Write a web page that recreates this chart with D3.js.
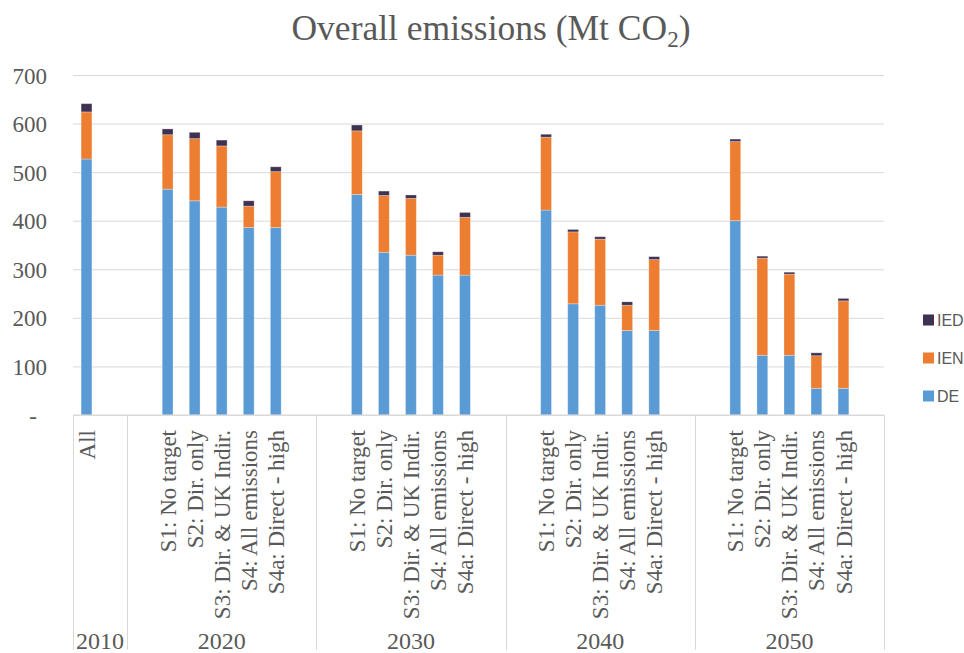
<!DOCTYPE html>
<html>
<head>
<meta charset="utf-8">
<script src="https://cdn.jsdelivr.net/npm/d3@7/dist/d3.min.js"></script>
<style>
  html, body { margin: 0; padding: 0; background: #fff; }
  svg { display: block; }
</style>
</head>
<body>
<svg id="chart" width="964" height="653"></svg>
<script>
// Emissions by year and scenario, Mt CO2
const years = ["2010", "2020", "2030", "2040", "2050"];
const baseCategory = "All";
const scenarios = ["S1: No target", "S2: Dir. only", "S3: Dir. & UK Indir.", "S4: All emissions", "S4a: Direct - high"];
const seriesNames = ["DE", "IEN", "IED"];
// one value per bar: 2010 All, then five scenarios for each later year
const deValues  = [527, 465, 441, 428, 386, 386, 454, 335, 329, 288, 288, 422, 229, 226, 174, 174, 400, 123, 123, 55, 55];
const ienValues = [97, 112, 128, 126, 44, 115, 131, 117, 117, 41, 119, 150, 148, 136, 52, 146, 163, 200, 167, 67, 180];
const iedValues = [17, 12, 13, 12, 11, 10, 12, 9, 7, 7, 10, 6, 5, 5, 7, 6, 5, 4, 4, 6, 5];
const yTicks = [0, 100, 200, 300, 400, 500, 600, 700];
const yTickLabels = ["-", "100", "200", "300", "400", "500", "600", "700"];

const colors = { DE: "#5B9BD5", IEN: "#ED7D31", IED: "#3F3152" };
const textColor = "#595959";
const gridColor = "#D9D9D9";

// Build the category slots: each year group carries empty padding slots
const slots = [];   // {key, year, label, bar index or -1}
const groups = [];  // {year, first slot, last slot}
let barIdx = 0;
years.forEach((yr, gi) => {
  const start = slots.length;
  if (gi === 0) {
    slots.push({ key: yr + "|" + baseCategory, year: yr, label: baseCategory, bar: barIdx++ });
    slots.push({ key: yr + "|gap1", year: yr, label: "", bar: -1 });
  } else {
    slots.push({ key: yr + "|gap0", year: yr, label: "", bar: -1 });
    scenarios.forEach(s => slots.push({ key: yr + "|" + s, year: yr, label: s, bar: barIdx++ }));
    slots.push({ key: yr + "|gap1", year: yr, label: "", bar: -1 });
  }
  groups.push({ year: yr, start: start, end: slots.length - 1 });
});

const bars = slots.filter(s => s.bar >= 0).map(s => ({
  key: s.key, label: s.label, year: s.year,
  DE: deValues[s.bar], IEN: ienValues[s.bar], IED: iedValues[s.bar]
}));

const svg = d3.select("#chart");
const plot = { left: 73, right: 884, top: 75, bottom: 415 };

const x = d3.scaleBand().domain(slots.map(s => s.key)).range([plot.left, plot.right]).padding(0);
const barW = x.bandwidth() / 2.5;
const y = d3.scaleLinear().domain([0, 700]).range([plot.bottom, plot.top]);

// Title
const title = svg.append("text")
  .attr("x", 491).attr("y", 40)
  .attr("text-anchor", "middle")
  .attr("font-family", "'Liberation Serif', serif")
  .attr("font-size", 35.5)
  .attr("fill", textColor);
title.append("tspan").text("Overall emissions (Mt CO");
title.append("tspan").attr("font-size", 23).attr("dy", 7).text("2");
title.append("tspan").attr("dy", -7).text(")");

// Horizontal gridlines
const yAxis = d3.axisLeft(y).tickValues(yTicks)
  .tickSize(-(plot.right - plot.left))
  .tickFormat((d, i) => yTickLabels[i]);
const gy = svg.append("g").attr("transform", `translate(${plot.left},0)`).call(yAxis);
gy.select(".domain").remove();
gy.selectAll(".tick line").attr("stroke", gridColor).attr("stroke-width", 1);
gy.selectAll(".tick text")
  .attr("x", -26)
  .attr("dy", "0.35em")
  .attr("font-family", "'Liberation Serif', serif")
  .attr("font-size", 23)
  .attr("fill", textColor);
gy.selectAll(".tick text").filter(d => d === 0).attr("x", -36);

// Stacked bars
const stack = d3.stack().keys(seriesNames);
const stacked = stack(bars);
svg.append("g").selectAll("g")
  .data(stacked)
  .join("g")
  .attr("fill", d => colors[d.key])
  .selectAll("rect")
  .data(d => d)
  .join("rect")
  .attr("x", d => x(d.data.key) + (x.bandwidth() - barW) / 2)
  .attr("y", d => y(d[1]))
  .attr("width", barW)
  .attr("height", d => y(d[0]) - y(d[1]))
  .attr("stroke", "#fff")
  .attr("stroke-opacity", 0.35)
  .attr("stroke-width", 0.8);

// Category axis: baseline, group separators, labels
const axisG = svg.append("g");
axisG.append("line")
  .attr("x1", plot.left).attr("x2", plot.right)
  .attr("y1", plot.bottom).attr("y2", plot.bottom)
  .attr("stroke", gridColor);

const boundaries = [plot.left].concat(groups.map(g => x(slots[g.end].key) + x.bandwidth()));
axisG.selectAll("line.sep")
  .data(boundaries)
  .join("line")
  .attr("class", "sep")
  .attr("x1", d => Math.round(d) + 0.5).attr("x2", d => Math.round(d) + 0.5)
  .attr("y1", plot.bottom).attr("y2", 650)
  .attr("stroke", gridColor);

axisG.selectAll("text.cat")
  .data(bars)
  .join("text")
  .attr("class", "cat")
  .attr("transform", d => `translate(${x(d.key) + x.bandwidth() / 2},430) rotate(-90)`)
  .attr("text-anchor", "end")
  .attr("dy", "0.35em")
  .attr("font-family", "'Liberation Serif', serif")
  .attr("font-size", 23)
  .attr("fill", textColor)
  .text(d => d.label);

axisG.selectAll("text.year")
  .data(groups)
  .join("text")
  .attr("class", "year")
  .attr("x", g => (x(slots[g.start].key) + x(slots[g.end].key) + x.bandwidth()) / 2)
  .attr("y", 649)
  .attr("text-anchor", "middle")
  .attr("font-family", "'Liberation Serif', serif")
  .attr("font-size", 24)
  .attr("fill", textColor)
  .text(g => g.year);

// Legend
const legendItems = ["IED", "IEN", "DE"];
const legend = svg.append("g").selectAll("g")
  .data(legendItems)
  .join("g")
  .attr("transform", (d, i) => `translate(923,${320 + i * 38})`);
legend.append("rect")
  .attr("x", 0).attr("y", -5.5)
  .attr("width", 11).attr("height", 11)
  .attr("fill", d => colors[d]);
legend.append("text")
  .attr("x", 14).attr("dy", "0.36em")
  .attr("font-family", "'Liberation Sans', sans-serif")
  .attr("font-size", 16)
  .attr("fill", textColor)
  .text(d => d);
</script>
</body>
</html>
